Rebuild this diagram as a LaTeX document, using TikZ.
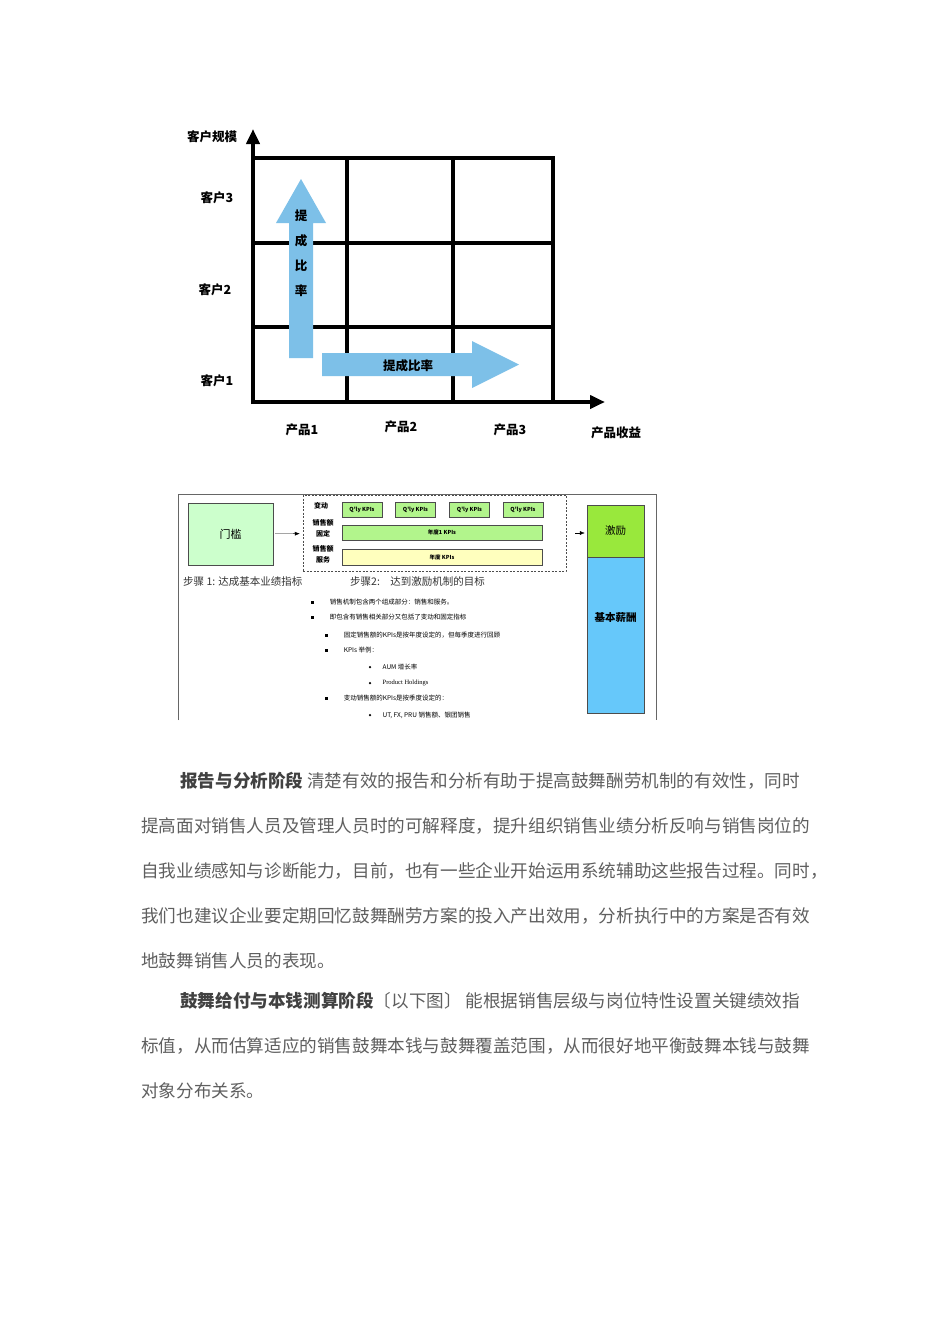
\documentclass[tikz,border=0pt]{standalone}
\usepackage{fontspec}
\setmainfont{Liberation Serif}
\newfontfamily\cjk{Noto Sans CJK SC}
\usetikzlibrary{arrows.meta,positioning}
\definecolor{flowblue}{RGB}{125,192,232}
\definecolor{palegreen}{RGB}{204,255,204}
\definecolor{kpigreen}{RGB}{178,245,140}
\definecolor{paleyellow}{RGB}{255,255,190}
\definecolor{incgreen}{RGB}{153,232,60}
\definecolor{baseblue}{RGB}{102,200,250}
\definecolor{bodygray}{RGB}{95,95,95}
\definecolor{headgray}{RGB}{65,65,65}

\begin{document}
\begin{tikzpicture}[x=1pt,y=-1pt,
  lbl/.style={font=\cjk\bfseries\fontsize{12.5}{25}\selectfont,inner sep=0pt,align=center},
  grid/.style={line width=4pt},
  axis/.style={line width=4pt,-{Triangle[length=15pt,width=13pt]}},
  flow/.style={fill=flowblue},
  box/.style={draw=black!70,inner sep=0pt,align=center},
  kpi/.style={box,fill=kpigreen,minimum width=40pt,minimum height=15pt,font=\cjk\bfseries\fontsize{5.5}{6}\selectfont},
  bar/.style={box,minimum width=200pt,font=\cjk\bfseries\fontsize{5.5}{6}\selectfont},
  tag/.style={font=\cjk\bfseries\fontsize{7}{11}\selectfont,align=center,inner sep=0pt},
  stepnote/.style={font=\cjk\fontsize{10.5}{11}\selectfont,text=black!80,anchor=west,inner sep=0pt},
  note/.style={font=\cjk\fontsize{6.5}{7}\selectfont,inner sep=0pt},
  sq/.style={fill=black,minimum size=3pt,inner sep=0pt},
  dot/.style={circle,fill=black,minimum size=2.5pt,inner sep=0pt},
  arr/.style={-{Latex[length=5pt,width=4pt]},thin},
  para/.style={font=\cjk\fontsize{17.6}{18}\selectfont,text=bodygray,anchor=west,inner sep=0pt}]
\fill[white] (0,0) rectangle (950,1344);
\useasboundingbox (0,0) rectangle (950,1344);

% customer / product grid
\draw[grid] (253,158) rectangle (553,402);
\foreach \gx in {347,453} \draw[grid] (\gx,158) -- (\gx,402);
\foreach \gy in {243,327} \draw[grid] (253,\gy) -- (553,\gy);
\coordinate (origin) at (253,402);
\coordinate (ytop) at (253,129);
\coordinate (xend) at (605,402);
\draw[axis,shorten <=-2pt] (origin) -- (ytop);
\draw[axis,shorten <=-2pt] (origin) -- (xend);
\fill[flow] (289,358) -- (289,223) -- (276,223) -- (301,179) -- (326,223) -- (313,223) -- (313,358) -- cycle;
\fill[flow] (322,353) -- (472,353) -- (472,341) -- (519,364.5) -- (472,388) -- (472,376) -- (322,376) -- cycle;
\node[lbl] (uprate) at (301,253) {提\\成\\比\\率};
\node[lbl] (siderate) at (408,366) {提成比率};
\node[lbl] (yname) at (212,137) {客户规模};
\node[lbl] (cust3) at (217,198) {客户3};
\node[lbl] (cust2) at (215,290) {客户2};
\node[lbl] (cust1) at (217,381) {客户1};
\node[lbl] (prod1) at (302,430) {产品1};
\node[lbl] (prod2) at (401,427) {产品2};
\node[lbl] (prod3) at (510,430) {产品3};
\node[lbl] (xname) at (616,433) {产品收益};

% incentive scheme
\draw[black!60] (178,720) -- (178,494.5) -- (656,494.5) -- (656,720);
\node[box,fill=palegreen,minimum width=85pt,minimum height=62pt,font=\cjk\fontsize{11}{12}\selectfont] (gate) at (230.5,534) {门槛};
\node[draw=black!70,dash pattern=on 2pt off 1.5pt,minimum width=263pt,minimum height=76pt] (kpiset) at (434.5,533) {};
\foreach \kx [count=\ki] in {362,415.5,469.5,523}
  \node[kpi] (q\ki) at (\kx,510) {\raisebox{-2.5pt}{Q'ly KPIs}};
\node[bar,fill=kpigreen,minimum height=15pt] (fixbar) at (442,532.5) {\raisebox{-2pt}{年度1 KPIs}};
\node[bar,fill=paleyellow,minimum height=16pt] (svcbar) at (442,557) {\raisebox{-2pt}{年度 KPIs}};
\node[tag] (vartag) at (321,506) {变动};
\node[tag] (fixtag) at (323,528) {销售额\\固定};
\node[tag] (svctag) at (323,554) {销售额\\服务};
\node[box,fill=incgreen,minimum width=57pt,minimum height=52pt,font=\cjk\fontsize{10.5}{11}\selectfont] (incent) at (615.5,531) {激励};
\node[box,fill=baseblue,minimum width=57pt,minimum height=156pt,below=0pt of incent,font=\cjk\bfseries\fontsize{10.5}{11}\selectfont] (basepay) {\raisebox{37pt}{基本薪酬}};
\draw[arr,shorten <=2pt,shorten >=3pt] (gate) -- (kpiset);
\draw[arr,shorten <=9pt,shorten >=2pt] (kpiset.east) -- (incent.west |- kpiset.east);
\node[stepnote] (step1) at (183,582) {步骤 1: 达成基本业绩指标};
\node[stepnote] (step2) at (350,582) {步骤2:\quad 达到激励机制的目标};

\node[sq] (b1) at (312,602) {};
\node[note,right=16pt of b1] (t1) {销售机制包含两个组成部分：销售和服务。};
\node[sq] (b2) at (312,617) {};
\node[note,right=16pt of b2] (t2) {即包含有销售相关部分又包括了变动和固定指标};
\node[sq] (b3) at (326,635) {};
\node[note,right=16pt of b3] (t3) {固定销售额的KPIs是按年度设定的，但每季度进行回顾};
\node[sq] (b4) at (326,650) {};
\node[note,right=16pt of b4] (t4) {KPIs 举例：};
\node[dot] (b5) at (370,667) {};
\node[note,right=11pt of b5] (t5) {AUM 增长率};
\node[dot] (b6) at (370,683) {};
\node[note,right=11pt of b6,font=\fontsize{6.5}{7}\selectfont] (t6) {Product Holdings};
\node[sq] (b7) at (326,698) {};
\node[note,right=16pt of b7] (t7) {变动销售额的KPIs是按季度设定的：};
\node[dot] (b8) at (370,715) {};
\node[note,right=11pt of b8] (t8) {UT, FX, PRU 销售额、银团销售};

% body text
\node[para] (p1) at (180,781) {\textcolor{headgray}{\bfseries 报告与分析阶段} 清楚有效的报告和分析有助于提高鼓舞酬劳机制的有效性，同时};
\node[para] (p2) at (141,826) {提高面对销售人员及管理人员时的可解释度，提升组织销售业绩分析反响与销售岗位的};
\node[para] (p3) at (141,871) {自我业绩感知与诊断能力，目前，也有一些企业开始运用系统辅助这些报告过程。同时，};
\node[para] (p4) at (141,916) {我们也建议企业要定期回忆鼓舞酬劳方案的投入产出效用，分析执行中的方案是否有效};
\node[para] (p5) at (141,961) {地鼓舞销售人员的表现。};
\node[para] (p6) at (180,1001) {\textcolor{headgray}{\bfseries 鼓舞给付与本钱测算阶段}〔以下图〕 能根据销售层级与岗位特性设置关键绩效指};
\node[para] (p7) at (141,1046) {标值，从而估算适应的销售鼓舞本钱与鼓舞覆盖范围，从而很好地平衡鼓舞本钱与鼓舞};
\node[para] (p8) at (141,1091) {对象分布关系。};
\end{tikzpicture}
\end{document}
